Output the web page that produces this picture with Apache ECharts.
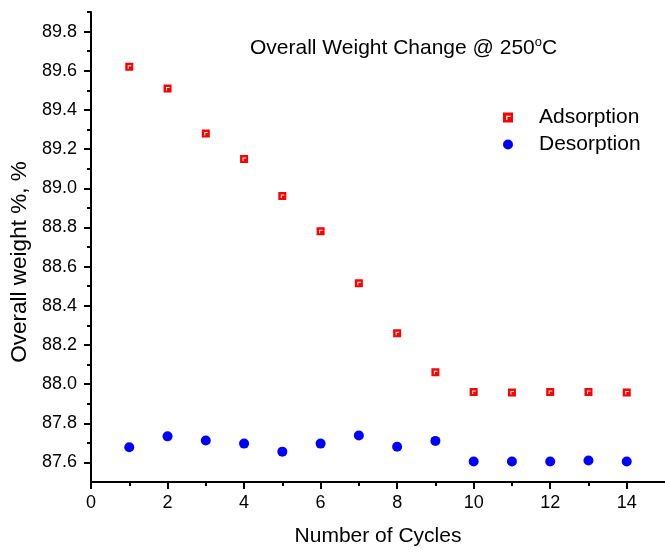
<!DOCTYPE html>
<html>
<head>
<meta charset="utf-8">
<script src="https://cdn.jsdelivr.net/npm/echarts@6/dist/echarts.min.js"></script>
<style>html,body{margin:0;padding:0;background:#fff}#c{width:665px;height:552px}</style>
</head>
<body>
<div id="c"></div>
<script>
var cycles = [1,2,3,4,5,6,7,8,9,10,11,12,13,14];
var adsorption = [89.62,89.51,89.28,89.15,88.96,88.78,88.515,88.26,88.06,87.96,87.957,87.96,87.96,87.957];
var desorption = [87.677,87.733,87.712,87.696,87.655,87.696,87.737,87.68,87.71,87.605,87.605,87.605,87.61,87.605];
var xMajorTicks = [0,2,4,6,8,10,12,14];
var xMinorTicks = [1,3,5,7,9,11,13];
var yMajorTicks = [87.6,87.8,88.0,88.2,88.4,88.6,88.8,89.0,89.2,89.4,89.6,89.8];
var yMinorTicks = [87.7,87.9,88.1,88.3,88.5,88.7,88.9,89.1,89.3,89.5,89.7,89.9];
var seriesNames = ['Adsorption','Desorption'];
var titleText = 'Overall Weight Change @ 250';
var xName = 'Number of Cycles';
var yName = 'Overall weight %, %';

var FONT = '"Liberation Sans", Arial, sans-serif';
var chart = echarts.init(document.getElementById('c'), null, {renderer:'canvas'});
var squareSym = 'path://M0,0H8V8H0Z M2.5,2.5V6H3.5V3.5H6V2.5Z';
function pair(xs, ys){ return xs.map(function(x,i){ return [x, ys[i]]; }); }
var axisLine = {show:true, onZero:false, lineStyle:{color:'#000', width:2}};
var option = {
  animation:false,
  title:{
    text: titleText + '{s|o}C',
    left:245, top:31,
    textStyle:{fontFamily:FONT, fontSize:21, fontWeight:'normal', color:'#000',
      rich:{s:{fontFamily:FONT, fontSize:13, color:'#000', padding:[0,0,12,0]}}}
  },
  legend:{
    orient:'vertical', left:498, top:102, itemWidth:10, itemHeight:10, itemGap:6,
    data: seriesNames,
    textStyle:{fontFamily:FONT, fontSize:21, color:'#000', padding:[0,0,0,21]}
  },
  grid:{left:91, top:12, right:0, bottom:70, containLabel:false},
  xAxis:[{
    type:'value', min:0, max:15, position:'bottom',
    name:xName, nameLocation:'middle', nameGap:44,
    nameTextStyle:{fontFamily:FONT, fontSize:21, color:'#000'},
    axisLine:axisLine,
    axisTick:{show:true, length:7, lineStyle:{color:'#000', width:2}, customValues:xMajorTicks},
    axisLabel:{fontFamily:FONT, fontSize:18, color:'#000', margin:12, customValues:xMajorTicks},
    splitLine:{show:false}
  },{
    type:'value', min:0, max:15, position:'bottom',
    axisLine:{show:false},
    axisTick:{show:true, length:4, lineStyle:{color:'#000', width:2}, customValues:xMinorTicks},
    axisLabel:{show:false},
    splitLine:{show:false}
  }],
  yAxis:[{
    type:'value', min:87.5, max:89.9, position:'left',
    name:yName, nameLocation:'middle', nameGap:57,
    nameTextStyle:{fontFamily:FONT, fontSize:22.5, color:'#000', padding:[0,30,0,0]},
    axisLine:axisLine,
    axisTick:{show:true, length:7, lineStyle:{color:'#000', width:2}, customValues:yMajorTicks},
    axisLabel:{fontFamily:FONT, fontSize:18, color:'#000', margin:14, customValues:yMajorTicks,
      formatter:function(v){ return v.toFixed(1); }},
    splitLine:{show:false}
  },{
    type:'value', min:87.5, max:89.9, position:'left',
    axisLine:{show:false},
    axisTick:{show:true, length:4, lineStyle:{color:'#000', width:2}, customValues:yMinorTicks},
    axisLabel:{show:false},
    splitLine:{show:false}
  }],
  series:[{
    name:seriesNames[0], type:'scatter', xAxisIndex:0, yAxisIndex:0,
    symbol:squareSym, symbolSize:8,
    itemStyle:{color:'#ff0000', opacity:1},
    data: pair(cycles, adsorption)
  },{
    name:seriesNames[1], type:'scatter', xAxisIndex:0, yAxisIndex:0,
    symbol:'circle', symbolSize:10,
    itemStyle:{color:'#0000ff', opacity:1},
    data: pair(cycles, desorption)
  }]
};
chart.setOption(option);
</script>
</body>
</html>
